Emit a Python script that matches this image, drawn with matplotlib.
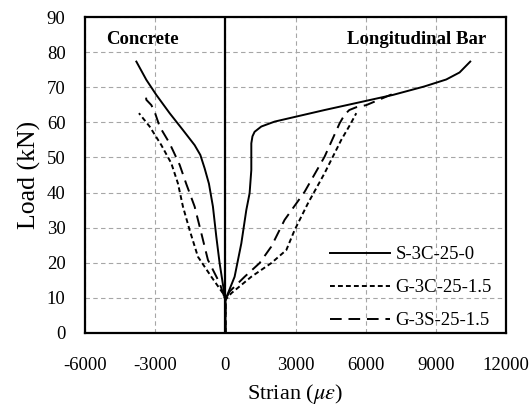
import matplotlib
matplotlib.use("Agg")
import matplotlib.pyplot as plt

plt.rcParams['font.family'] = ['Liberation Serif', 'DejaVu Serif']
plt.rcParams['mathtext.fontset'] = 'stix'
plt.rcParams['axes.unicode_minus'] = False

# Load-strain readings, concrete side (compressive, negative strain)
conc_s3c_strain = [0, 0, -244, -385, -530, -700, -885, -1068, -1312,
                   -1812, -2380, -2949, -3376, -3803]
conc_s3c_load   = [0, 9.4, 19.9, 27.4, 36, 42.5, 46.9, 50.7, 53.5,
                   57.8, 62.6, 67.8, 72.1, 77.3]

conc_g3c_strain = [0, 0, -103, -598, -1171, -1526, -1812, -2026, -2308,
                   -2735, -3235, -3692]
conc_g3c_load   = [0, 9.4, 11.3, 16, 21.7, 29.3, 36, 42.6, 48.3, 53.5,
                   58.8, 62.6]

conc_g3s_strain = [0, 0, -244, -744, -1026, -1312, -1667, -1953, -2380,
                   -2808, -3021, -3162, -3376, -3419]
conc_g3s_load   = [0, 9.4, 14.2, 20.8, 28.4, 36, 42.4, 47.9, 54, 58.8,
                   63, 64.9, 66.4, 68.7]

# Longitudinal bar side (tensile strain)
bar_s3c_strain = [0, 0, 397, 684, 897, 1038, 1111, 1111, 1160, 1252, 1538,
                  2107, 4243, 7162, 8500, 9444, 10013, 10470]
bar_s3c_load   = [0, 9.4, 16, 25.5, 35, 39.8, 46.4, 54, 56, 57.3, 58.8,
                  60.2, 63.5, 67.8, 70.2, 72.2, 74.2, 77.3]

bar_g3c_strain = [0, 0, 256, 1111, 1966, 2607, 2962, 3530, 4243, 4957,
                  5350, 5598]
bar_g3c_load   = [0, 9.4, 11.3, 16, 19.9, 23.6, 29.3, 36.9, 45.5, 55,
                  59.5, 62.6]

bar_g3s_strain = [0, 0, 184, 825, 1466, 1966, 2534, 3389, 4243, 4885,
                  5100, 5300, 5598, 6026, 7235]
bar_g3s_load   = [0, 9.4, 11.8, 16, 19.9, 24.6, 32.2, 40.2, 50.2, 59.7,
                  62.2, 63.5, 64.3, 64.9, 68.3]

labels = ["S-3C-25-0", "G-3C-25-1.5", "G-3S-25-1.5"]

fig = plt.figure(figsize=(5.31, 4.05), dpi=100)
ax = fig.add_axes([0.160, 0.178, 0.793, 0.780])

styles = [dict(linestyle='-'),
          dict(linestyle=(0, (2.5, 1.6))),
          dict(linestyle=(0, (6, 3.5)))]
conc = [(conc_s3c_strain, conc_s3c_load), (conc_g3c_strain, conc_g3c_load),
        (conc_g3s_strain, conc_g3s_load)]
bar = [(bar_s3c_strain, bar_s3c_load), (bar_g3c_strain, bar_g3c_load),
       (bar_g3s_strain, bar_g3s_load)]

for (cx, cy), (bx, by), st, lab in zip(conc, bar, styles, labels):
    ax.plot(cx, cy, color='black', lw=1.4, **st)
    ax.plot(bx, by, color='black', lw=1.4, label=lab, **st)

ax.axvline(0, color='black', lw=1.6, zorder=3)

ax.set_xlim(-6000, 12000)
ax.set_ylim(0, 90)
ax.set_xticks(range(-6000, 12001, 3000))
ax.set_yticks(range(0, 91, 10))
ax.grid(True, color='#a6a6a6', linestyle=(0, (4, 3)), lw=0.8)
ax.tick_params(length=0, labelsize=13.5)
ax.tick_params(axis='x', pad=17)
ax.tick_params(axis='y', pad=14)
for sp in ax.spines.values():
    sp.set_linewidth(1.6)

ax.set_xlabel(r"Strian ($\mu\varepsilon$)", fontsize=16, labelpad=6)
ax.set_ylabel("Load (kN)", fontsize=18.5, labelpad=4)

ax.text(-5100, 83.5, "Concrete", fontsize=13.5, fontweight='bold', va='center', ha='left')
ax.text(11150, 83.5, "Longitudinal Bar", fontsize=13.5, fontweight='bold', va='center', ha='right')

ax.legend(loc='lower right', bbox_to_anchor=(0.975, 0.0), frameon=False,
          fontsize=13.5, handlelength=3.2, handletextpad=0.3,
          labelspacing=0.84, borderpad=0.1, borderaxespad=0.1)

fig.savefig("out.png", dpi=100)
